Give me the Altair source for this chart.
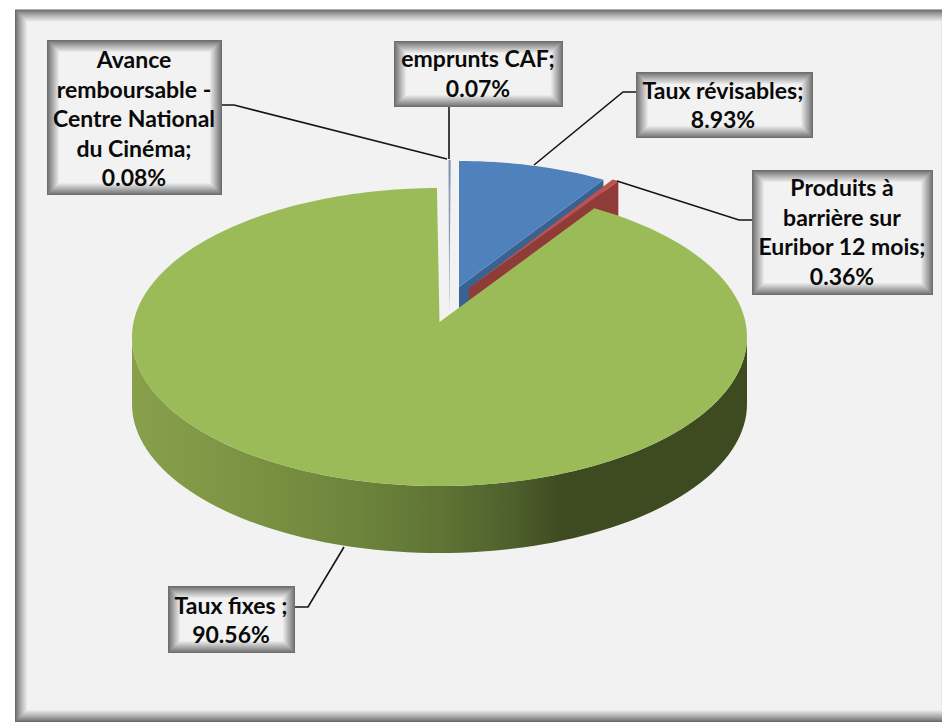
import math
import altair as alt

# ---- chart values ----
names = ["Taux révisables", "Produits à\nbarrière sur\nEuribor 12 mois", "Taux fixes ",
         "Avance\nremboursable -\nCentre National\ndu Cinéma", "emprunts CAF"]
shares = [8.93, 0.36, 90.56, 0.08, 0.07]
top_colors = ["#4f81bd", "#c0504d", "#9bbb59", "#b4c4e0", "#5f6d92"]
cut_colors = ["#3a6291", "#8f3b38", None, None, None]

# ---- page layout (pixels of the 950x722 picture) ----
M = 8
W, H = 934, 714
DEPTH = 67
RY = 149
LINE = 29.5
# ellipse centre x, centre y, rx, apex x, apex y
geom = [
    (459.0, 310.0, 298.0, 459.0, 287.0),
    (463.5, 309.7, 307.5, 469.0, 288.0),
    (439.5, 337.0, 307.5, 439.5, 322.0),
    (450.5, 309.0, 307.5, 449.5, 315.0),
    (450.5, 309.0, 307.5, 449.5, 315.0),
]
boxes = [  # x0, x1, y0, y1, text cx, text cy   (same order as names)
    (636, 813, 72, 138, 723, 106.5),
    (752, 933, 170, 295, 842, 233.5),
    (168, 295, 586, 653, 231, 621.5),
    (47, 222, 40, 195, 134, 120),
    (394, 563, 41, 107, 478, 75),
]
leaders = [
    [(636, 92), (623, 92), (534, 165)],
    [(752, 220), (739, 220), (617, 181)],
    [(295, 607), (308, 607), (344, 547)],
    [(222, 105), (234, 105), (447, 159)],
    [(449, 107), (449, 159)],
]


def warp(deg):
    return deg - 3.5 * math.sin(math.radians(2 * deg))


def ell(g, deg, dy=0.0):
    cx, cy, rx, _, _ = g
    p = math.radians(warp(deg))
    return [cx + rx * math.sin(p), cy - RY * math.cos(p) + dy]


def feature(ring, color):
    ring = [[x - M, y - M] for x, y in ring]
    ring.append(ring[0])
    return {"type": "Feature", "properties": {"color": color},
            "geometry": {"type": "Polygon", "coordinates": [ring]}}


def mix(c0, c1, t):
    a = [int(c0[i:i + 2], 16) for i in (1, 3, 5)]
    b = [int(c1[i:i + 2], 16) for i in (1, 3, 5)]
    return "#" + "".join(f"{round(p + (q - p) * t):02x}" for p, q in zip(a, b))


# slices: cumulative angles come from the shares
total = sum(shares)
starts, cum = [], 0.0
for s in shares:
    starts.append(cum / total * 360)
    cum += s
ends = [a + s / total * 360 for a, s in zip(starts, shares)]

features = []
for i in (3, 4, 0, 1, 2):
    g = geom[i]
    a0, a1 = starts[i], ends[i]
    n = max(2, int((a1 - a0) / 1.5))
    arc = [ell(g, a0 + (a1 - a0) * k / n) for k in range(n + 1)]
    apex = [g[3], g[4]]
    if cut_colors[i]:
        e = arc[-1]
        features.append(feature([apex, e, [e[0], e[1] + DEPTH], [apex[0], apex[1] + DEPTH]], cut_colors[i]))
    features.append(feature([apex] + arc, top_colors[i]))

# outer wall of the big slice
g = geom[2]
front = [90 + k * 2 for k in range(91)]
wall_ring = []
for d in front:
    p = math.radians(d)
    wall_ring.append([g[0] + g[2] * math.sin(p), g[1] - RY * math.cos(p)])
for d in reversed(front):
    p = math.radians(d)
    wall_ring.append([g[0] + g[2] * math.sin(p), g[1] - RY * math.cos(p) + DEPTH])
wall_feature = feature(wall_ring, "#5a6f33")

# panel and label frames with a soft inner shadow
rects = []


def frame(x0, x1, y0, y1, levels, dark, light, ease):
    for i in range(levels + 1):
        t = (i / levels) ** ease
        rects.append({"x": x0 + i, "x2": x1 - i, "y": y0 + i, "y2": y1 - i, "fill": mix(dark, light, t)})


frame(15, 953, 9.5, 722, 12, "#6a6a6a", "#f2f2f2", 0.85)
panel_rects = rects
rects = []
for b in boxes:
    frame(b[0], b[1], b[2], b[3], 12, "#6e6e6e", "#f2f2f2", 0.95)
box_rects = rects

line_rows = []
for i, pts in enumerate(leaders):
    for k, (x, y) in enumerate(pts):
        line_rows.append({"g": i, "k": k, "x": x, "y": y})

text_rows = []
for n, s, b in zip(names, shares, boxes):
    parts = f"{n};\n{s:.2f}%".split("\n")
    for k, part in enumerate(parts):
        text_rows.append({"t": part, "x": b[4], "y": b[5] + (k - (len(parts) - 1) / 2) * LINE})

X = alt.Scale(domain=[M, M + W], range=[0, W])
Y = alt.Scale(domain=[M, M + H], range=[0, H])
proj = alt.Projection(type="identity", scale=1, translate=[0, 0])


def rect_layer(rows):
    return alt.Chart(alt.Data(values=rows)).mark_rect().encode(
        x=alt.X("x:Q", scale=X, axis=None), x2="x2:Q",
        y=alt.Y("y:Q", scale=Y, axis=None), y2="y2:Q",
        color=alt.Color("fill:N", scale=None),
    )


wall = alt.Chart(alt.Data(values=[wall_feature])).mark_geoshape(
    fill=alt.Gradient(
        gradient="linear", x1=0, x2=1, y1=0, y2=0,
        stops=[
            alt.GradientStop(offset=0.0, color="#88a04c"),
            alt.GradientStop(offset=0.2, color="#7b9243"),
            alt.GradientStop(offset=0.35, color="#6e863c"),
            alt.GradientStop(offset=0.5, color="#5f7435"),
            alt.GradientStop(offset=0.62, color="#4e602c"),
            alt.GradientStop(offset=0.7, color="#3e4a20"),
            alt.GradientStop(offset=1.0, color="#3e4a20"),
        ],
    )
).project(**proj.to_dict())

slices = alt.Chart(alt.Data(values=features)).mark_geoshape().encode(
    color=alt.Color("properties.color:N", scale=None)
).project(**proj.to_dict())

lines = alt.Chart(alt.Data(values=line_rows)).mark_line(color="#141414", strokeWidth=1.6).encode(
    x=alt.X("x:Q", scale=X, axis=None),
    y=alt.Y("y:Q", scale=Y, axis=None),
    detail="g:N",
    order="k:Q",
)

texts = alt.Chart(alt.Data(values=text_rows)).mark_text(
    font="Lato", fontWeight="bold", fontSize=23,
    color="#0a0a0a", align="center", baseline="middle",
).encode(
    x=alt.X("x:Q", scale=X, axis=None),
    y=alt.Y("y:Q", scale=Y, axis=None),
    text="t:N",
)

chart = alt.layer(
    rect_layer(panel_rects), wall, slices, rect_layer(box_rects), lines, texts
).properties(
    width=W, height=H, padding=0, background="white", autosize=alt.AutoSizeParams(type="none")
).configure_view(stroke=None)

chart.save("out.html", embed_options={"renderer": "svg", "actions": False})
